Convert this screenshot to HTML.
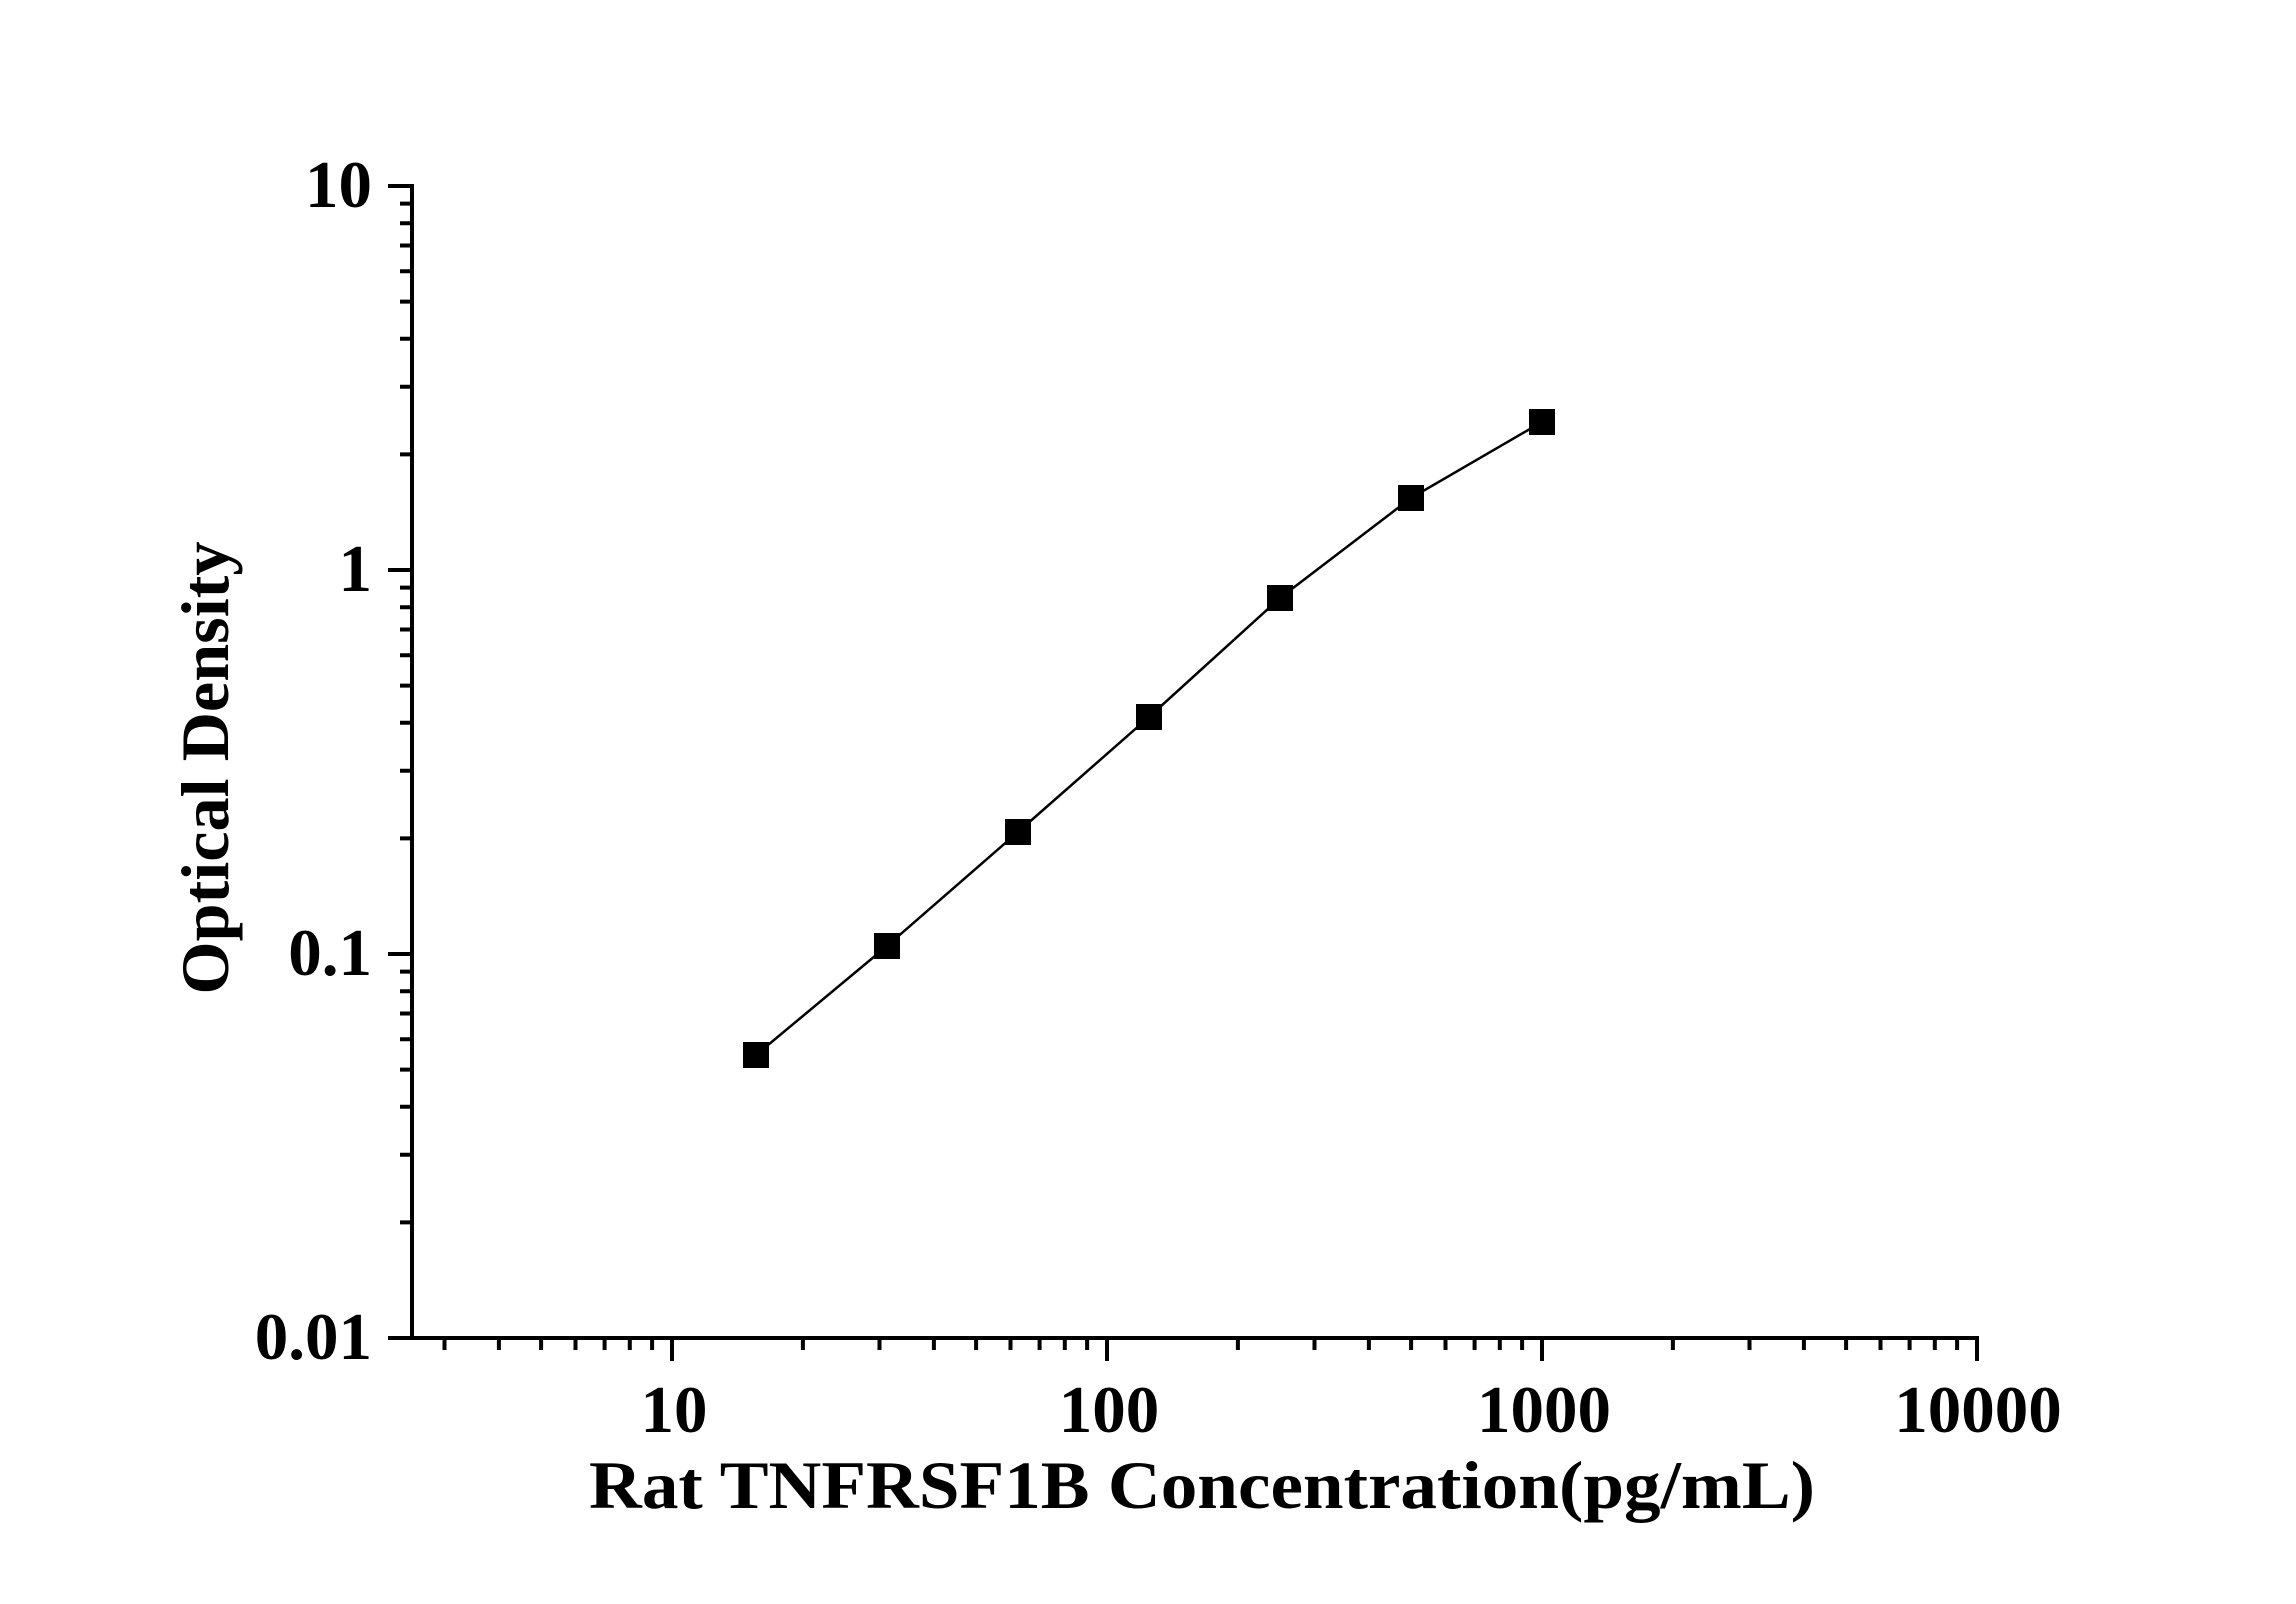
<!DOCTYPE html>
<html><head><style>body{margin:0;background:#fff}svg{display:block}</style></head>
<body>
<svg width="2296" height="1604" viewBox="0 0 2296 1604" xmlns="http://www.w3.org/2000/svg" font-family="Liberation Serif, serif" font-weight="bold">
<rect width="2296" height="1604" fill="#fff"/>
<g stroke="#000" stroke-width="4" fill="none">
<line x1="412" y1="184" x2="412" y2="1340"/>
<line x1="410" y1="1338" x2="1979" y2="1338"/>
<line x1="388" y1="186" x2="412" y2="186"/>
<line x1="388" y1="570" x2="412" y2="570"/>
<line x1="388" y1="954" x2="412" y2="954"/>
<line x1="388" y1="1338" x2="412" y2="1338"/>
<line x1="672" y1="1338" x2="672" y2="1361"/>
<line x1="1107" y1="1338" x2="1107" y2="1361"/>
<line x1="1542" y1="1338" x2="1542" y2="1361"/>
<line x1="1977" y1="1338" x2="1977" y2="1361"/>
<path d="M400 1222.4H412M400 1154.8H412M400 1106.8H412M400 1069.6H412M400 1039.2H412M400 1013.5H412M400 991.2H412M400 971.6H412
M400 838.4H412M400 770.8H412M400 722.8H412M400 685.6H412M400 655.2H412M400 629.5H412M400 607.2H412M400 587.6H412
M400 454.4H412M400 386.8H412M400 338.8H412M400 301.6H412M400 271.2H412M400 245.5H412M400 223.2H412M400 203.6H412
M444.5 1338V1350M498.9 1338V1350M541.1 1338V1350M575.5 1338V1350M604.6 1338V1350M629.8 1338V1350M652.1 1338V1350
M802.9 1338V1350M879.5 1338V1350M933.9 1338V1350M976.1 1338V1350M1010.5 1338V1350M1039.6 1338V1350M1064.8 1338V1350M1087.1 1338V1350
M1237.9 1338V1350M1314.5 1338V1350M1368.9 1338V1350M1411.1 1338V1350M1445.5 1338V1350M1474.6 1338V1350M1499.8 1338V1350M1522.1 1338V1350
M1672.9 1338V1350M1749.5 1338V1350M1803.9 1338V1350M1846.1 1338V1350M1880.5 1338V1350M1909.6 1338V1350M1934.8 1338V1350M1957.1 1338V1350"/>
</g>
<polyline fill="none" stroke="#000" stroke-width="2.5" points="756,1055 887,946 1018,832 1149,717 1280,598 1411,498 1542,422"/>
<g fill="#000">
<rect x="743" y="1042" width="26" height="26"/>
<rect x="874" y="933" width="26" height="26"/>
<rect x="1005" y="819" width="26" height="26"/>
<rect x="1136" y="704" width="26" height="26"/>
<rect x="1267" y="585" width="26" height="26"/>
<rect x="1398" y="485" width="26" height="26"/>
<rect x="1529" y="409" width="26" height="26"/>
</g>
<g font-size="67" text-anchor="end">
<text x="372" y="207">10</text>
<text x="372" y="591">1</text>
<text x="372" y="975">0.1</text>
<text x="372" y="1359">0.01</text>
</g>
<g font-size="67" text-anchor="middle">
<text x="674" y="1432">10</text>
<text x="1109" y="1432">100</text>
<text x="1544" y="1432">1000</text>
<text x="1978" y="1432">10000</text>
</g>
<text x="589" y="1508" font-size="68" textLength="1226" lengthAdjust="spacingAndGlyphs">Rat TNFRSF1B Concentration(pg/mL)</text>
<text transform="translate(228,768) rotate(-90)" text-anchor="middle" font-size="68" textLength="453" lengthAdjust="spacingAndGlyphs">Optical Density</text>
</svg>
</body></html>
